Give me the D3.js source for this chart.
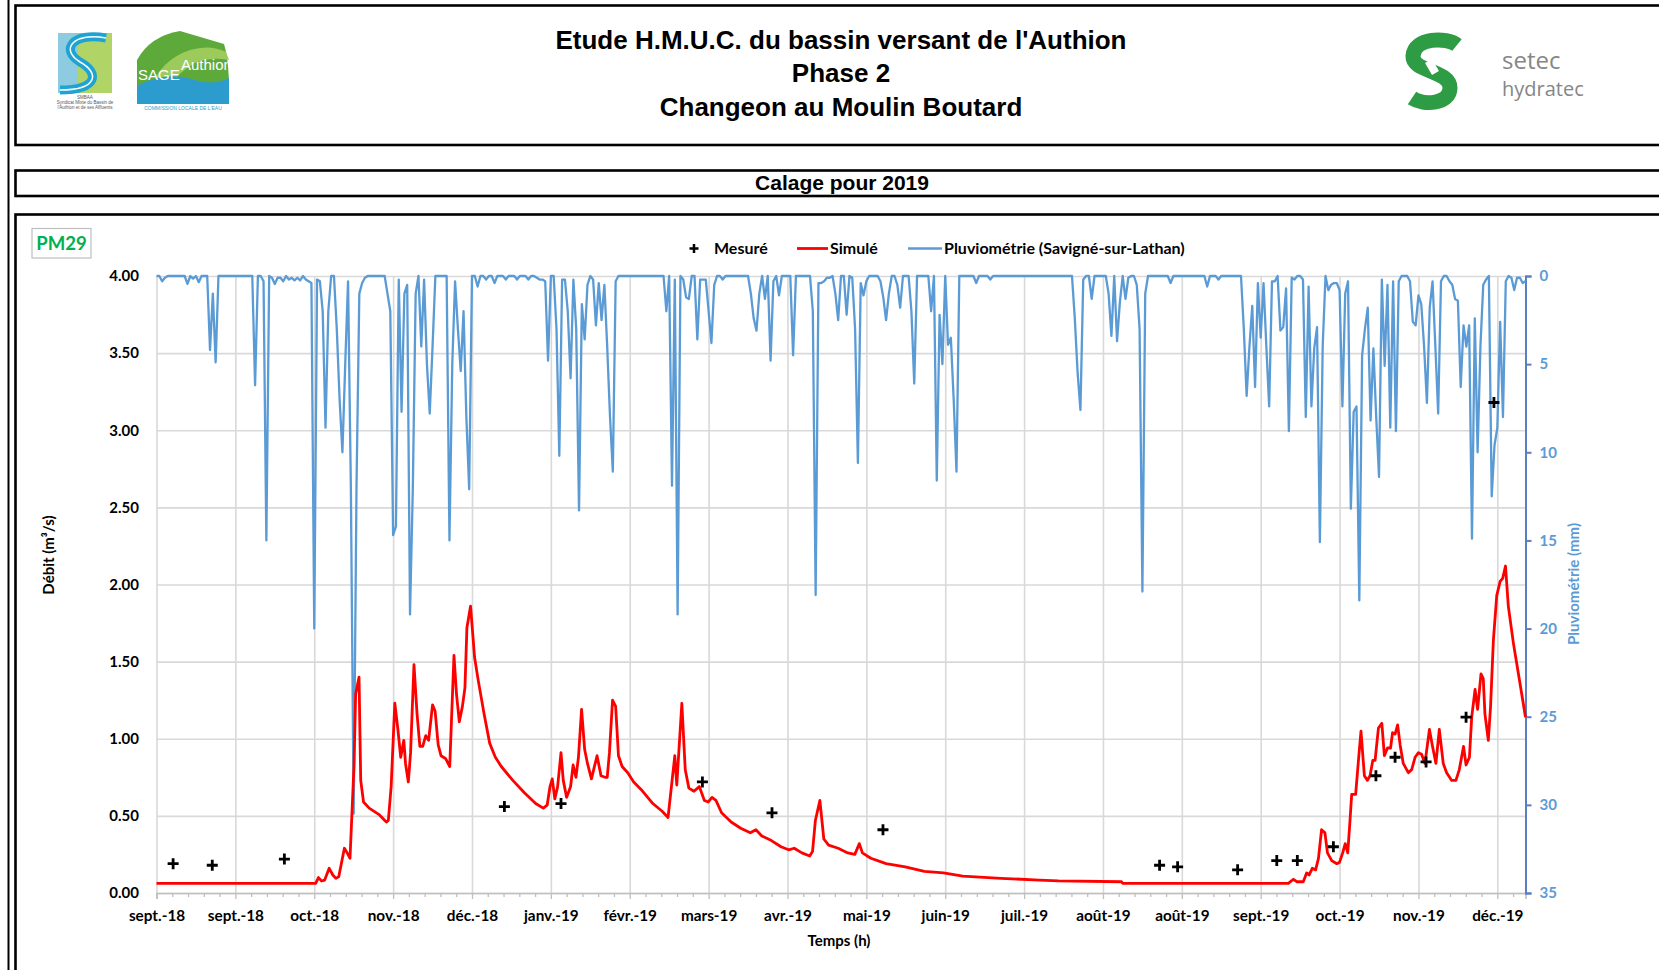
<!DOCTYPE html>
<html><head><meta charset="utf-8">
<script src="https://cdn.jsdelivr.net/npm/d3@7"></script>
<style>body{margin:0;background:#fff;} svg{display:block;}</style>
</head><body>
<svg id="c" width="1659" height="970"></svg>
<script>
// ---------------- DATA ----------------
// x values are days since 1 Sept 2018
const xTickLabels = ["sept.-18","sept.-18","oct.-18","nov.-18","déc.-18","janv.-19","févr.-19","mars-19","avr.-19","mai-19","juin-19","juil.-19","août-19","août-19","sept.-19","oct.-19","nov.-19","déc.-19"];
const xTickDays = [0,28,56,84,112,140,168,196,224,252,280,308,336,364,392,420,448,476];
const yLeftTicks = [0,0.5,1,1.5,2,2.5,3,3.5,4];
const yRightTicks = [0,5,10,15,20,25,30,35];

// daily rainfall (mm), Savigné-sur-Lathan, day 0 .. 486
const rain = [
0,0,0.3,0.1,0,0,0,0,0,0,
0,0.45,0,0.15,0,0.35,0,0,0,4.2,
1.0,4.9,0,0,0,0,0,0,0,0,
0,0,0,0,0,6.2,0,0,0.3,15,
0,0.1,0.45,0.1,0.1,0.3,0,0.2,0.1,0.25,
0.1,0.25,0,0.2,0.3,0.4,20,0.2,0.3,2,
8.6,2,0,0,3,7,10,5,0.3,12,
30.5,12,1.0,0.4,0.1,0,0,0,0,0,
0,0,1,2,14.7,14.2,0.2,7.7,1,0.5,
19.2,12,1,0,4,0.2,5,7.8,4,0,
0,0,0,0,15,5,0.3,3,5.4,2,
8,12.1,0,0,0.6,0,0,0.2,0,0,
0.4,0,0,0,0.2,0,0,0,0.2,0,
0,0,0.2,0,0,0.1,0.2,0.2,0.3,4.8,
0,0,3,10.2,0.2,0.2,2,5.8,0.2,3,
13.3,1.6,3.6,0.5,0,0.2,2.8,0.4,2.5,0.5,
4,8,11.1,0.3,0,0,0,0,0,0,
0,0,0,0,0,0,0,0,0,0,
0,2,0,11.9,0.2,19.2,0,0.2,1.2,1.3,
0,0,3.6,0.2,0.2,0.2,2,3.8,0.5,0,
0,0.2,0,0,0,0,0,0,0,0,
0,1,2.4,3.1,1,0,1.3,0,4.8,0.3,
0,1.1,0,0,0,0,4.5,0,0,0,
0,0,0,2,18.1,0.4,0.4,0.3,0.1,0.1,
0,1,2.5,0,0,2.2,0,0.1,3,10.6,
0.4,1.1,0.3,0,0,0,0,0.3,1.2,2.5,
1,0,0,0.5,1.8,0,0,0,2,6.1,
0,0,0,0,0,2,0,11.6,2.2,5,
0,3.9,3.5,7,11.1,0,0,0,0,0,
0,0.4,0,0,0,0,0.2,0,0,0,
0,0,0,0,0,0,0,0,0,0,
0,0,0,0,0,0,0,0,0,0,
0,0,0,0,0,0,2.4,5.5,7.6,0.2,
0,0,1.3,0,0,0,0,0,1,3.4,
0,3.7,1.5,0,1.3,0.1,0,0,0.5,3,
17.9,1,0,0,0,0,0,0,0,0,
0.4,0,0,0,0,0,0,0,0,0,
0,0,0,0.6,0,0,0,0.2,0,0,
0,0,0,0,0,0,3,6.8,4,1.7,
6.3,0.4,3.5,0.4,4,7.4,0.3,0.3,0,3.1,
2.9,0.7,8.8,0.1,0.2,0,0,0.2,8,0.6,
7.4,4.1,2.9,15.1,4,0,0.8,0.5,0.4,0.4,
0.8,7.4,1,0.3,13.2,7.7,7.4,18.4,4.5,3,
1.8,8.2,4.1,8,11.4,0.2,5.1,0.5,8.6,0.3,
8.8,0.3,0,0,0,0.3,2.6,2.8,1.1,1.6,
4,7.2,1.8,0.3,4,7.8,0.3,0,0,0.3,
0.5,1.3,1.4,6.3,2.8,4,2.8,14.9,2.4,10,
4,0.5,0.2,0,12.5,9.6,8.6,2.6,8,0.3,
0,0.1,0.8,0.1,0.1,0.4,0.3
];

// simulated discharge (m3/s): [day, value]
const simulated = [[0,0.063],[56.5,0.063],[57.5,0.10],[58.6,0.078],[59.7,0.084],[61.3,0.16],[62.6,0.117],[63.7,0.095],[64.7,0.106],[66.7,0.29],[67.7,0.26],[68.7,0.225],[70.1,0.82],[70.7,1.29],[71.9,1.40],[72.5,0.73],[73.5,0.59],[75.5,0.55],[78.9,0.51],[81.6,0.46],[82.3,0.47],[83.3,0.69],[84.6,1.23],[85.7,1.06],[86.7,0.88],[87.8,0.99],[88.4,0.84],[89.4,0.72],[90.2,0.91],[91.4,1.48],[92.5,1.16],[93.5,0.95],[94.5,0.95],[95.6,1.02],[96.6,0.99],[98.0,1.22],[98.9,1.18],[100,0.96],[101,0.89],[102.7,0.87],[104.1,0.82],[105.6,1.54],[106.5,1.29],[107.5,1.11],[108.6,1.21],[109.5,1.33],[110.2,1.72],[111.5,1.86],[112.9,1.53],[114.2,1.38],[116.3,1.16],[118.3,0.97],[120.3,0.88],[122.4,0.82],[126.5,0.73],[130.6,0.65],[134.6,0.58],[137.3,0.55],[138.7,0.57],[139.7,0.69],[140.5,0.74],[141.4,0.61],[142.4,0.69],[143.6,0.91],[144.4,0.73],[145.6,0.62],[147,0.69],[147.9,0.83],[148.9,0.75],[149.8,0.88],[150.9,1.19],[152,0.93],[153,0.84],[154.4,0.74],[156.4,0.89],[157.8,0.76],[159.2,0.75],[160,0.75],[160.8,0.91],[161.9,1.25],[163,1.21],[164,0.89],[165.3,0.82],[167.3,0.78],[169.4,0.72],[172.1,0.67],[176.2,0.58],[179.5,0.53],[181.6,0.49],[184,0.89],[184.7,0.70],[186.5,1.23],[187.7,0.80],[189,0.68],[190.8,0.66],[192.7,0.69],[194.5,0.60],[195.9,0.59],[197.2,0.62],[198.6,0.60],[200.6,0.52],[204,0.46],[207.4,0.42],[210.8,0.39],[212.8,0.41],[214.9,0.37],[218.3,0.34],[221.7,0.30],[224.4,0.28],[226.4,0.29],[229.1,0.26],[231.9,0.24],[232.9,0.27],[233.9,0.47],[235.5,0.60],[236.9,0.35],[238.6,0.31],[242,0.29],[245.4,0.26],[247.9,0.25],[249.5,0.32],[250.6,0.26],[253.6,0.225],[259,0.19],[265.8,0.17],[272.6,0.14],[279.4,0.13],[286.2,0.11],[299.8,0.095],[313.4,0.084],[320.2,0.078],[342.6,0.073],[343,0.063],[401.8,0.063],[403.6,0.089],[404.8,0.073],[407.1,0.073],[408.3,0.13],[409.2,0.117],[410.3,0.16],[411.5,0.15],[412.5,0.225],[413.6,0.41],[414.8,0.39],[415.7,0.26],[417.2,0.21],[419,0.19],[420,0.2],[421.1,0.26],[422,0.32],[422.9,0.26],[423.7,0.47],[424.3,0.64],[425.7,0.64],[426.7,0.86],[427.6,1.05],[428.8,0.76],[429.9,0.73],[430.8,0.76],[431.8,0.86],[432.6,0.86],[433.8,1.07],[435,1.10],[435.9,0.89],[437,0.94],[438.1,0.94],[438.8,1.04],[439.7,1.03],[440.6,1.09],[441.5,0.96],[442.6,0.84],[444.4,0.78],[445.6,0.80],[446.8,0.88],[448,0.91],[449.1,0.90],[450.3,0.84],[451.9,1.06],[453,0.95],[454.2,0.84],[455.4,1.06],[456.8,0.84],[458,0.78],[459.8,0.73],[461.3,0.73],[462.5,0.80],[464,0.95],[464.9,0.83],[466.1,0.88],[466.9,1.14],[468.1,1.32],[469,1.19],[470.2,1.42],[471,1.39],[471.6,1.16],[472.8,0.99],[473.6,1.21],[474.6,1.64],[475.8,1.93],[477,2.02],[477.9,2.04],[478.9,2.12],[479.9,1.86],[481.7,1.62],[483.5,1.42],[486,1.14]];

// measured discharge (m3/s): [day, value]
const measured = [[5.9,0.19],[19.8,0.18],[45.4,0.22],[123.5,0.56],[143.6,0.58],[193.8,0.72],[218.5,0.52],[257.9,0.41],[356.1,0.18],[362.5,0.17],[383.8,0.15],[397.7,0.21],[405,0.21],[417.8,0.30],[432.9,0.76],[439.7,0.88],[450.7,0.85],[464.9,1.14],[474.8,3.18]];

const titleLines = ["Etude H.M.U.C. du bassin versant de l'Authion","Phase 2","Changeon au Moulin Boutard"];
const subTitle = "Calage pour 2019";
const stationLabel = "PM29";
const legendLabels = ["Mesuré","Simulé","Pluviométrie (Savigné-sur-Lathan)"];
const yLeftTitle = "Débit (m³/s)";
const yRightTitle = "Pluviométrie (mm)";
const xTitle = "Temps (h)";

// ---------------- DRAW ----------------
const svg = d3.select('#c');
const FONT = "Lato, 'Open Sans', sans-serif";
const ARIAL = "'Liberation Sans', Arial, sans-serif";

// frames
svg.append('line').attr('x1',8.5).attr('x2',8.5).attr('y1',0).attr('y2',970).attr('stroke','#000').attr('stroke-width',2);
[[5.5,139.5],[170.5,25.5],[214.5,800]].forEach(([y,h])=>{
  svg.append('rect').attr('x',15.5).attr('y',y).attr('width',1700).attr('height',h)
    .attr('fill','none').attr('stroke','#000').attr('stroke-width',2.6);
});

// titles
const tb = [49,82,116];
titleLines.forEach((t,i)=>{
  svg.append('text').attr('x',841).attr('y',tb[i]).attr('text-anchor','middle')
   .attr('font-family',ARIAL).attr('font-weight','bold').attr('font-size',26).attr('fill','#000').text(t);
});
svg.append('text').attr('x',842).attr('y',190).attr('text-anchor','middle')
   .attr('font-family',ARIAL).attr('font-weight','bold').attr('font-size',21).attr('fill','#000').text(subTitle);

// ---- logos (approximate) ----
const lg = svg.append('g');
// SMBAA
lg.append('rect').attr('x',58).attr('y',33).attr('width',54).attr('height',60).attr('fill','#B1D466');
lg.append('rect').attr('x',58).attr('y',33).attr('width',20).attr('height',60).attr('fill','#8CCBE0');
lg.append('path').attr('d','M106,38 C72,32 60,50 80,62 C100,73 98,90 60,90').attr('fill','none').attr('stroke','#1FA3D3').attr('stroke-width',9);
lg.append('path').attr('d','M106,38 C72,32 60,50 80,62 C100,73 98,90 60,90').attr('fill','none').attr('stroke','#fff').attr('stroke-width',1.5);
const smb = lg.append('text').attr('x',85).attr('y',99).attr('text-anchor','middle').attr('font-family',ARIAL).attr('font-size',4.5).attr('fill','#555');
[["SMBAA",0],["Syndicat Mixte du Bassin de",5],["l'Authion et de ses Affluents",5]].forEach(([t,dy])=>{
  smb.append('tspan').attr('x',85).attr('dy',dy).text(t);
});
// SAGE Authion
lg.append('path').attr('d','M137,60 Q150,36 180,31 L224,44 Q229,60 229,90 L137,90 Z').attr('fill','#5DAA3B');
lg.append('path').attr('d','M150,90 Q160,60 190,50 Q210,44 226,52 L229,60 Q205,56 190,66 Q172,78 170,90 Z').attr('fill','#9CCB5C');
lg.append('path').attr('d','M137,86 Q165,70 195,80 Q213,86 229,78 L229,104 L137,104 Z').attr('fill','#2C9CCF');
const sage = lg.append('text').attr('font-family',ARIAL).attr('font-size',15).attr('fill','#fff');
sage.append('tspan').attr('x',138).attr('y',80).text('SAGE');
sage.append('tspan').attr('x',181).attr('y',70).text('Authion');
lg.append('text').attr('x',183).attr('y',110).attr('text-anchor','middle').attr('font-family',ARIAL).attr('font-size',5).attr('fill','#2AA4C7').text("COMMISSION LOCALE DE L'EAU");
// setec hydratec
lg.append('path').attr('d','M1457,45 C1447,37 1414,37 1413,56 C1412,72 1450,70 1450,88 C1450,104 1424,106 1412,98').attr('fill','none').attr('stroke','#2E9B45').attr('stroke-width',15);
lg.append('rect').attr('x',1428).attr('y',60).attr('width',8).attr('height',14).attr('fill','#fff').attr('transform','rotate(-30,1432,67)');
const st = lg.append('text').attr('font-family',"'Open Sans', sans-serif").attr('fill','#868686');
st.append('tspan').attr('x',1502).attr('y',69).attr('font-size',24).text('setec');
st.append('tspan').attr('x',1502).attr('y',96).attr('font-size',20).text('hydratec');

// ---- chart ----
const L = 156.5, R = 1525.5, T = 276, B = 893;
const x = d3.scaleLinear().domain([0,486]).range([L,R]);
const yL = d3.scaleLinear().domain([0,4]).range([B,T]);
const yR = d3.scaleLinear().domain([0,35]).range([T,B]);

// station label
svg.append('rect').attr('x',32).attr('y',228.5).attr('width',59).attr('height',29.5).attr('fill','#fff').attr('stroke','#BFBFBF').attr('stroke-width',1.2);
svg.append('text').attr('x',61.5).attr('y',250).attr('text-anchor','middle').attr('font-family',FONT).attr('font-weight','bold').attr('font-size',18.5).attr('fill','#00B050').text(stationLabel);

// gridlines
svg.append('g').attr('transform',`translate(${L},0)`)
  .call(d3.axisLeft(yL).tickValues(yLeftTicks).tickSize(-(R-L)).tickFormat(''))
  .call(g=>g.select('.domain').remove())
  .call(g=>g.selectAll('line').attr('stroke','#D9D9D9').attr('stroke-width',1.6));
svg.append('g').attr('transform',`translate(0,${B})`)
  .call(d3.axisBottom(x).tickValues(xTickDays).tickSize(-(B-T)).tickFormat(''))
  .call(g=>g.select('.domain').remove())
  .call(g=>g.selectAll('line').attr('stroke','#D9D9D9').attr('stroke-width',1.6));

// x axis: minor ticks
const minorDays = [];
for (let d = 0; d <= 486.01; d += 5.6) { if (Math.abs(d/28 - Math.round(d/28)) > 0.01) minorDays.push(d); }
svg.append('g').attr('transform',`translate(0,${B})`)
  .call(d3.axisBottom(x).tickValues(minorDays).tickSize(4).tickFormat(''))
  .call(g=>g.select('.domain').remove())
  .call(g=>g.selectAll('line').attr('stroke','#BFBFBF').attr('stroke-width',1.3));
const xa = svg.append('g').attr('transform',`translate(0,${B})`)
  .call(d3.axisBottom(x).tickValues(xTickDays).tickSize(6).tickPadding(11).tickFormat((d,i)=>xTickLabels[i]));
xa.select('.domain').attr('stroke','#BFBFBF').attr('stroke-width',1.6);
xa.selectAll('line').attr('stroke','#BFBFBF').attr('stroke-width',1.3);
xa.selectAll('text').attr('font-family',FONT).attr('font-weight','bold').attr('font-size',15.3).attr('fill','#000');

// left axis labels
const ya = svg.append('g').attr('transform',`translate(${L},0)`)
  .call(d3.axisLeft(yL).tickValues(yLeftTicks).tickSize(0).tickPadding(17.5).tickFormat(d3.format('.2f')));
ya.select('.domain').remove();
ya.selectAll('text').attr('font-family',FONT).attr('font-weight','bold').attr('font-size',15).attr('fill','#000');

// right axis
const yra = svg.append('g').attr('transform',`translate(${R},0)`)
  .call(d3.axisRight(yR).tickValues(yRightTicks).tickSize(6).tickPadding(8));
yra.select('.domain').attr('stroke','#5A7EC6').attr('stroke-width',2);
yra.selectAll('line').attr('stroke','#5A7EC6').attr('stroke-width',2);
yra.selectAll('text').attr('font-family',FONT).attr('font-weight','bold').attr('font-size',15).attr('fill','#5B9BD5');

// rainfall line
svg.append('path').datum(rain)
  .attr('d', d3.line().x((d,i)=>x(i)).y(d=>yR(d)))
  .attr('fill','none').attr('stroke','#5B9BD5').attr('stroke-width',2.3).attr('stroke-linejoin','round');

// simulated line
svg.append('path').datum(simulated)
  .attr('d', d3.line().x(d=>x(d[0])).y(d=>yL(d[1])))
  .attr('fill','none').attr('stroke','#FF0000').attr('stroke-width',2.8).attr('stroke-linejoin','round');

// measured markers
const plus = (g,cx,cy,s,w)=>{
  g.append('path').attr('d',`M${cx-s},${cy}H${cx+s}M${cx},${cy-s}V${cy+s}`).attr('stroke','#000').attr('stroke-width',w);
};
const mg = svg.append('g');
measured.forEach(d=>plus(mg,x(d[0]),yL(d[1]),5.5,2.8));

// axis titles
svg.append('text').attr('transform','translate(54,555) rotate(-90)').attr('text-anchor','middle')
  .attr('font-family',FONT).attr('font-weight','bold').attr('font-size',15).attr('fill','#000').text(yLeftTitle);
svg.append('text').attr('transform','translate(1579,584) rotate(-90)').attr('text-anchor','middle')
  .attr('font-family',FONT).attr('font-weight','bold').attr('font-size',15).attr('fill','#5B9BD5').text(yRightTitle);
svg.append('text').attr('x',839).attr('y',946).attr('text-anchor','middle')
  .attr('font-family',FONT).attr('font-weight','bold').attr('font-size',15).attr('fill','#000').text(xTitle);

// legend
const lgY = 248.5;
plus(svg,694,lgY,4.5,2.5);
svg.append('line').attr('x1',797).attr('x2',828).attr('y1',lgY).attr('y2',lgY).attr('stroke','#FF0000').attr('stroke-width',2.8);
svg.append('line').attr('x1',908).attr('x2',942).attr('y1',lgY).attr('y2',lgY).attr('stroke','#5B9BD5').attr('stroke-width',2.3);
[[714,0],[830,1],[944,2]].forEach(([lx,i])=>{
  svg.append('text').attr('x',lx).attr('y',lgY+5.5).attr('font-family',FONT).attr('font-weight','bold').attr('font-size',16).attr('fill','#000').text(legendLabels[i]);
});
</script>
</body></html>
